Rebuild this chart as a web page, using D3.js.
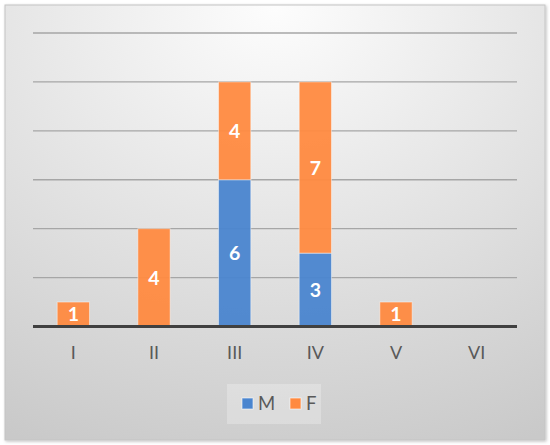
<!DOCTYPE html>
<html>
<head>
<meta charset="utf-8">
<script src="https://cdn.jsdelivr.net/npm/d3@7"></script>
<style>
  body { margin: 0; background: #fff; }
  svg { display: block; font-family: Lato, "Open Sans", sans-serif; }
</style>
</head>
<body>
<div id="chart"></div>
<script>
const categories = ['I', 'II', 'III', 'IV', 'V', 'VI'];
const seriesNames = ['M', 'F'];
const valuesM = [0, 0, 6, 3, 0, 0];
const valuesF = [1, 4, 4, 7, 1, 0];
const colors = ['#4A85CF', '#FF8A40'];

const width = 550, height = 445;
const margin = { top: 33, right: 33, bottom: 118, left: 33 };

const svg = d3.select('#chart').append('svg')
  .attr('width', width)
  .attr('height', height);

const defs = svg.append('defs');
const grad = defs.append('radialGradient')
  .attr('id', 'bg')
  .attr('cx', '50%').attr('cy', '0%')
  .attr('r', '110%');
grad.append('stop').attr('offset', '0%').attr('stop-color', '#fdfdfd');
grad.append('stop').attr('offset', '100%').attr('stop-color', '#c9c9c9');

const shadow = defs.append('filter').attr('id', 'shadow')
  .attr('x', '-5%').attr('y', '-5%').attr('width', '110%').attr('height', '110%');
shadow.append('feDropShadow')
  .attr('dx', 1).attr('dy', 1).attr('stdDeviation', 1.5)
  .attr('flood-color', '#000').attr('flood-opacity', 0.25);

// chart area
svg.append('rect')
  .attr('x', 5).attr('y', 5)
  .attr('width', 540).attr('height', 435)
  .attr('fill', 'url(#bg)')
  .attr('stroke', '#c4c4c4')
  .attr('filter', 'url(#shadow)');

const x = d3.scaleBand()
  .domain(categories)
  .range([margin.left, width - margin.right])
  .paddingInner(0.6)
  .paddingOuter(0.3);

const y = d3.scaleLinear()
  .domain([0, 12])
  .range([height - margin.bottom - 0.5, margin.top]);

// gridlines
svg.append('g')
  .selectAll('line')
  .data(y.ticks(6).filter(d => d > 0))
  .join('line')
  .attr('x1', margin.left)
  .attr('x2', width - margin.right)
  .attr('y1', d => y(d))
  .attr('y2', d => y(d))
  .attr('stroke', '#a6a6a6')
  .attr('stroke-width', 1.3);

const table = categories.map((c, i) => ({ cat: c, M: valuesM[i], F: valuesF[i] }));
const stacked = d3.stack().keys(seriesNames)(table);

const layer = svg.append('g')
  .selectAll('g')
  .data(stacked)
  .join('g')
  .attr('fill', (d, i) => colors[i]);

layer.selectAll('rect')
  .data(d => d.filter(s => s[1] - s[0] > 0))
  .join('rect')
  .attr('x', d => x(d.data.cat))
  .attr('y', d => y(d[1]))
  .attr('width', x.bandwidth())
  .attr('height', d => y(d[0]) - y(d[1]))
  .attr('fill-opacity', 0.95)
  .attr('stroke', 'rgba(255,255,255,0.45)')
  .attr('stroke-width', 1);

layer.selectAll('text')
  .data(d => d.filter(s => s[1] - s[0] > 0))
  .join('text')
  .attr('x', d => x(d.data.cat) + x.bandwidth() / 2)
  .attr('y', d => (y(d[0]) + y(d[1])) / 2)
  .attr('dy', '0.36em')
  .attr('text-anchor', 'middle')
  .attr('fill', '#fff')
  .attr('font-weight', 'bold')
  .attr('font-size', 19.5)
  .text(d => d[1] - d[0]);

// baseline
svg.append('line')
  .attr('x1', margin.left)
  .attr('x2', width - margin.right)
  .attr('y1', y(0))
  .attr('y2', y(0))
  .attr('stroke', '#404040')
  .attr('stroke-width', 3);

// x axis labels
const xAxis = svg.append('g')
  .attr('transform', `translate(0,${y(0) + 19})`)
  .call(d3.axisBottom(x).tickSize(0).tickPadding(0));
xAxis.select('.domain').remove();
xAxis.selectAll('text')
  .attr('dy', '0.75em')
  .attr('fill', '#595959')
  .attr('font-size', 18)
  .attr('font-family', 'Lato, "Open Sans", sans-serif');

// legend
const legend = svg.append('g');
legend.append('rect')
  .attr('x', 227).attr('y', 384)
  .attr('width', 94).attr('height', 40)
  .attr('fill', '#ffffff')
  .attr('fill-opacity', 0.25);

const lx = [242, 290];
const item = legend.selectAll('g.item')
  .data(seriesNames)
  .join('g')
  .attr('class', 'item')
  .attr('transform', (d, i) => `translate(${lx[i]},398)`);
item.append('rect')
  .attr('width', 11).attr('height', 11)
  .attr('fill', (d, i) => colors[i])
  .attr('stroke', 'rgba(255,255,255,0.6)');
item.append('text')
  .attr('x', 16)
  .attr('y', 5.5)
  .attr('dy', '0.36em')
  .attr('fill', '#595959')
  .attr('font-size', 18.5)
  .text(d => d);
</script>
</body>
</html>
